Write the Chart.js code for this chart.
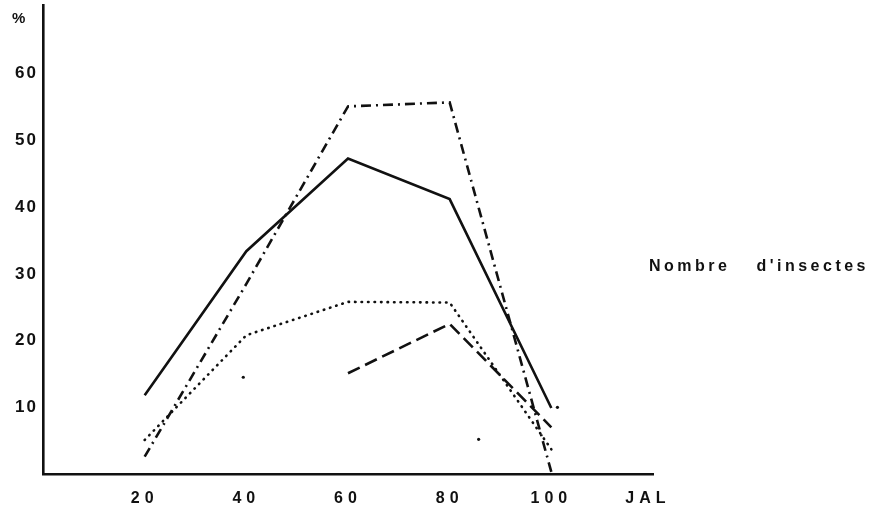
<!DOCTYPE html>
<html>
<head>
<meta charset="utf-8">
<script src="https://cdn.jsdelivr.net/npm/chart.js@4/dist/chart.umd.min.js"></script>
<style>
  html, body { margin: 0; padding: 0; background: #fff; }
  #wrap { position: relative; width: 879px; height: 519px; }
  canvas { position: absolute; left: 0; top: 0; }
  .lbl { position: absolute; font-family: "Liberation Sans", Arial, sans-serif; color: #111; font-weight: bold; white-space: pre; }
</style>
</head>
<body>
<div id="wrap">
  <canvas id="c" width="879" height="519"></canvas>
  <div class="lbl" style="left:12px; top:9px; font-size:15px;">%</div>
  <div class="lbl" style="left:649px; top:257px; font-size:16px; letter-spacing:3.5px; word-spacing:18px;">Nombre d'insectes</div>
</div>
<script>
// ---- data ----
const categories = [20, 40, 60, 80, 100];
const seriesSolid   = [11.8, 33.4, 47.3, 41.2, 9.9];
const seriesDashDot = [2.6, 28.5, 55.1, 55.7, 0.3];
const seriesDotted  = [5.1, 20.8, 25.8, 25.7, 3.7];
const seriesDashed  = [null, null, 15.1, 22.5, 7.0];
const strayX = [39.4, 85.7, 101.2];
const strayY = [14.5, 5.2, 10.0];
const xTickValues = [20, 40, 60, 80, 100, 119];
const xTickLabels = ['20', '40', '60', '80', '100', 'JAL'];
const yTickValues = [10, 20, 30, 40, 50, 60];

const ink = '#111';
function pts(vals) { return categories.map((x, i) => ({ x: x, y: vals[i] })); }

const spacing = {
  id: 'spacing',
  beforeDraw(chart) { chart.ctx.letterSpacing = '2px'; }
};

new Chart(document.getElementById('c'), {
  type: 'line',
  data: {
    datasets: [
      { label: 'solid', data: pts(seriesSolid), borderColor: ink, borderWidth: 2.6, pointRadius: 0 },
      { label: 'dashdot', data: pts(seriesDashDot), borderColor: ink, borderWidth: 2.6, borderDash: [10, 5, 2, 5], pointRadius: 0 },
      { label: 'dotted', data: pts(seriesDotted), borderColor: ink, borderWidth: 2.6, borderDash: [0.5, 6], borderCapStyle: 'round', pointRadius: 0 },
      { label: 'dashed', data: pts(seriesDashed), borderColor: ink, borderWidth: 2.6, borderDash: [13, 6], pointRadius: 0 },
      { label: 'stray', type: 'scatter', data: strayX.map((x, i) => ({ x: x, y: strayY[i] })), backgroundColor: ink, borderWidth: 0, pointRadius: 1.6, showLine: false }
    ]
  },
  options: {
    responsive: false,
    animation: false,
    layout: { padding: { top: 5, right: 226, left: 0, bottom: 0 } },
    plugins: { legend: { display: false }, tooltip: { enabled: false } },
    scales: {
      x: {
        type: 'linear', min: 0, max: 120,
        afterBuildTicks(scale) {
          scale.ticks = xTickValues.map(v => ({ value: v }));
          if (!scale._lsPatched) {
            const orig = scale.drawLabels;
            scale.drawLabels = function (a) {
              const ctx = this.ctx; const prev = ctx.letterSpacing;
              ctx.letterSpacing = '5px'; orig.call(this, a); ctx.letterSpacing = prev;
            };
            scale._lsPatched = true;
          }
        },
        afterFit(scale) { scale.height = 45; scale.paddingLeft = 0; scale.paddingRight = 0; },
        grid: { display: false, drawTicks: false },
        border: { display: true, color: ink, width: 2.6 },
        ticks: {
          color: ink, padding: 15, maxRotation: 0, autoSkip: false,
          font: { family: 'Liberation Sans', size: 16, weight: 'bold' },
          callback(v) { const i = xTickValues.indexOf(v); return i >= 0 ? xTickLabels[i] : ''; }
        }
      },
      y: {
        type: 'linear', min: 0, max: 70.3,
        afterBuildTicks(scale) { scale.ticks = yTickValues.map(v => ({ value: v })); },
        afterFit(scale) { scale.width = 43; scale.paddingTop = 0; scale.paddingBottom = 0; },
        grid: { display: false, drawTicks: false },
        border: { display: true, color: ink, width: 2.6 },
        ticks: {
          color: ink, padding: 5,
          font: { family: 'Liberation Sans', size: 17, weight: 'bold' }
        }
      }
    }
  },
  plugins: [spacing]
});
</script>
</body>
</html>
